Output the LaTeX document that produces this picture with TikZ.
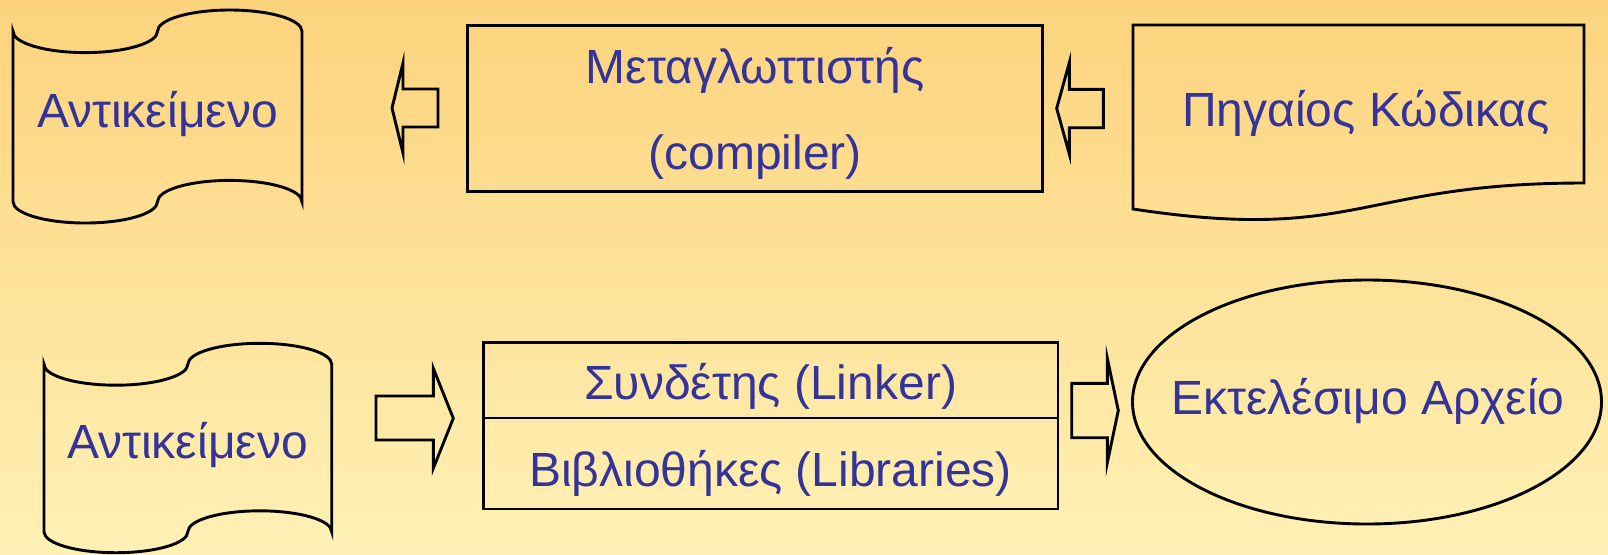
\documentclass[tikz,border=0pt]{standalone}
\usepackage{fontspec}
\setmainfont{Liberation Sans}
\definecolor{txtblue}{RGB}{51,51,153}
\definecolor{bgtop}{RGB}{253,211,125}
\definecolor{bgbot}{RGB}{255,241,181}
\newcommand\drawtape[4]{%
  \pgfmathsetmacro\tA{#3/4}\pgfmathsetmacro\tB{#4/10}%
  \pgfmathsetmacro\tka{0.5523*\tA}\pgfmathsetmacro\tkb{0.5523*\tB}%
  \draw[shapeline] (#1,#2+\tB)
    .. controls (#1,#2+\tB+\tkb) and (#1+\tA-\tka,#2+2*\tB) .. (#1+\tA,#2+2*\tB)
    .. controls (#1+\tA+\tka,#2+2*\tB) and (#1+2*\tA,#2+\tB+\tkb) .. (#1+2*\tA,#2+\tB)
    .. controls (#1+2*\tA,#2+\tB-\tkb) and (#1+3*\tA-\tka,#2) .. (#1+3*\tA,#2)
    .. controls (#1+3*\tA+\tka,#2) and (#1+4*\tA,#2+\tB-\tkb) .. (#1+4*\tA,#2+\tB)
    -- (#1+4*\tA,#2+#4-\tB)
    .. controls (#1+4*\tA,#2+#4-\tB-\tkb) and (#1+3*\tA+\tka,#2+#4-2*\tB) .. (#1+3*\tA,#2+#4-2*\tB)
    .. controls (#1+3*\tA-\tka,#2+#4-2*\tB) and (#1+2*\tA,#2+#4-\tB-\tkb) .. (#1+2*\tA,#2+#4-\tB)
    .. controls (#1+2*\tA,#2+#4-\tB+\tkb) and (#1+\tA+\tka,#2+#4) .. (#1+\tA,#2+#4)
    .. controls (#1+\tA-\tka,#2+#4) and (#1,#2+#4-\tB+\tkb) .. (#1,#2+#4-\tB)
    -- cycle;}
\begin{document}
\begin{tikzpicture}[x=0.5pt,y=-0.5pt,
  shapeline/.style={draw=black,line width=1.45pt,line join=miter},
  lbl/.style={text=txtblue,font=\fontsize{24pt}{29pt}\selectfont,inner sep=0pt,anchor=base}]
\useasboundingbox (0,0) rectangle (1608,554);
\shade[top color=bgtop,bottom color=bgbot] (0,0) rectangle (1608,554);

% top row
\drawtape{13}{10}{289}{213}
\node[lbl] (obj1) at (157.5,127.7) {Αντικείμενο};

\draw[shapeline] (467.7,25.7) rectangle (1042.7,191.7);
\node[lbl] (comp1) at (755.2,83) {Μεταγλωττιστής};
\node[lbl] (comp2) at (755.2,169) {(compiler)};

\draw[shapeline] (1133,25) -- (1584,25) -- (1584,183)
  .. controls (1358,183) and (1358,243.2) .. (1133,209) -- cycle;
\node[lbl] (src) at (1366,126.7) {Πηγαίος Κώδικας};

\draw[shapeline] (392,108) -- (403,63) -- (403,89) -- (438,89) -- (438,127) -- (403,127) -- (403,153) -- cycle;
\draw[shapeline] (1056.7,108.3) -- (1069.3,62.7) -- (1069.3,89.3) -- (1103.3,89.3) -- (1103.3,127.7) -- (1069.3,127.7) -- (1069.3,154) -- cycle;

% bottom row
\drawtape{44}{343.3}{287.7}{209.4}
\node[lbl] (obj2) at (187.5,458) {Αντικείμενο};

\draw[shapeline] (483.3,342.7) rectangle (1058,509);
\draw[shapeline] (483.3,418) -- (1058,418);
\node[lbl] (link) at (770.6,399.3) {Συνδέτης (Linker)};
\node[lbl] (libs) at (770.6,486.7) {Βιβλιοθήκες (Libraries)};

\draw[shapeline] (1367,402) ellipse [x radius=117.25pt, y radius=61pt];
\node[lbl] (exe) at (1368,414.3) {Εκτελέσιμο Αρχείο};

\draw[shapeline] (453.3,418.3) -- (433.3,368.3) -- (433.3,396) -- (376,396) -- (376,440) -- (433.3,440) -- (433.3,468.3) -- cycle;
\draw[shapeline] (1118.3,410.5) -- (1107.3,358.3) -- (1107.3,383.3) -- (1071.7,383.3) -- (1071.7,437.7) -- (1107.3,437.7) -- (1107.3,462.7) -- cycle;
\end{tikzpicture}
\end{document}
